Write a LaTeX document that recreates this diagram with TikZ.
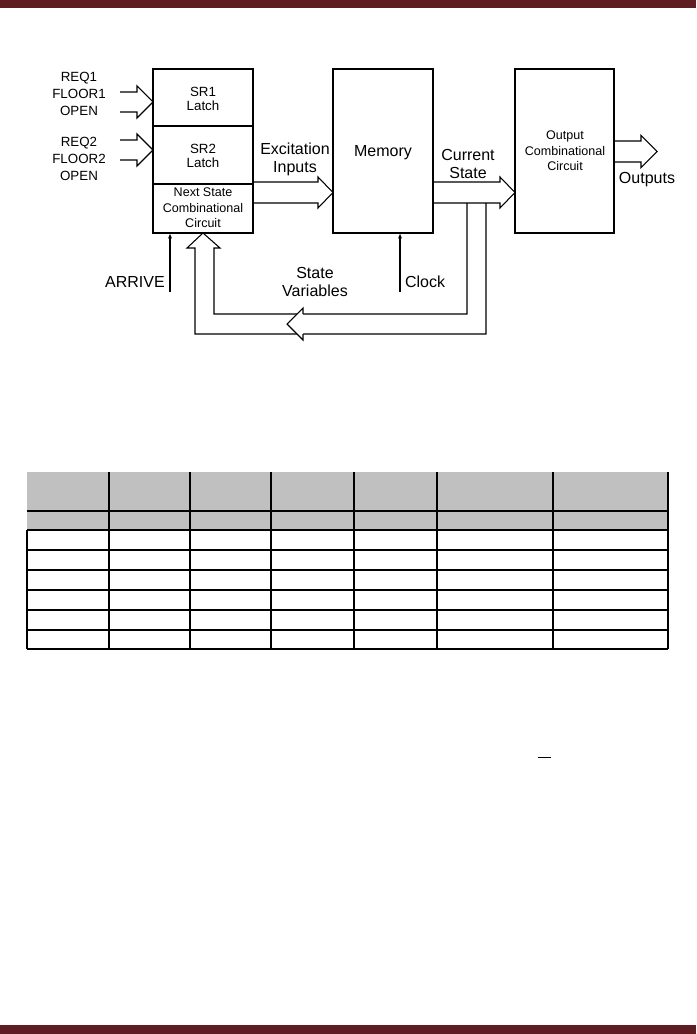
\documentclass[tikz,border=0pt]{standalone}
\usepackage{fontspec}
\setmainfont{Liberation Sans}
\usetikzlibrary{arrows.meta}

\definecolor{barred}{RGB}{94,30,33}
\definecolor{headgray}{RGB}{192,192,192}

% hollow block arrow: tail x, head x, tip x, centre y, half shaft, half head
\newcommand{\blockarr}[6]{%
  \draw[blk] ({#1},{#4-#5})--({#2},{#4-#5})--({#2},{#4-#6})--({#3},{#4})
    --({#2},{#4+#6})--({#2},{#4+#5})--({#1},{#4+#5});}

\begin{document}
\begin{tikzpicture}[x=.75pt,y=-.75pt,
  blk/.style={line width=.8pt},
  lbl/.style={inner sep=0pt,align=center,font=\fontsize{12}{13.5}\selectfont},
  srlbl/.style={inner sep=0pt,align=center,font=\fontsize{10}{11}\selectfont},
  inlbl/.style={inner sep=0pt,align=center,font=\fontsize{10}{12.7}\selectfont},
  smlbl/.style={inner sep=0pt,align=center,font=\fontsize{9.4}{11.6}\selectfont},
  thin/.style={line width=.8pt},
  thick/.style={line width=1.7pt},
  sig/.style={line width=.8pt,-{Latex[length=4pt,width=3pt]}}]
\path[use as bounding box] (0,0) rectangle (696,1034);
\fill[barred] (0,0) rectangle (696,8);
\fill[barred] (0,1025) rectangle (696,1034);

% boxes
\draw[blk] (153,69) rectangle (253,233);
\draw[blk] (153,126)--(253,126);
\draw[blk] (153,184)--(253,184);
\draw[blk] (333,69) rectangle (433,233);
\draw[blk] (515,69) rectangle (614,233);
\coordinate (nsb) at (203,233);
\coordinate (memb) at (383,233);

\node[srlbl] (sr1) at (203,99) {SR1\\Latch};
\node[srlbl] (sr2) at (203,156) {SR2\\Latch};
\node[smlbl] (ns) at (203,208) {Next State\\Combinational\\Circuit};
\node[lbl] (mem) at (383,153) {Memory};
\node[smlbl] (out) at (565,151) {Output\\Combinational\\Circuit};

% inputs
\node[inlbl] (in1) at (79,94) {REQ1\\FLOOR1\\OPEN};
\node[inlbl] (in2) at (79,159) {REQ2\\FLOOR2\\OPEN};
\blockarr{120}{137}{153}{102}{10}{16}
\blockarr{120}{137}{153}{150}{10}{16}

% block arrows
\blockarr{253}{318}{333}{192.5}{10.5}{15.5}
\blockarr{433}{500}{515}{192.5}{10.5}{15.5}
\blockarr{614}{641}{657}{151.5}{10.5}{16}
\node[lbl] (exc) at (295,159) {Excitation\\Inputs};
\node[lbl] (cur) at (468,164) {Current\\State};
\node[lbl] (outs) at (647,180) {Outputs};

% feedback
\draw[blk] (467,203)--(467,314)--(214,314)--(214,248)--(220,248)--(nsb)
  --(187,248)--(195,248)--(195,334)--(486,334)--(486,203);
\draw[blk,fill=white] (303,314)--(303,308)--(287,324)--(303,340)--(303,334);
\node[lbl] (sv) at (315,282) {State\\Variables};

% control inputs
\coordinate (arr) at (170,292);
\coordinate (clk) at (400,292);
\draw[sig] (arr)--(arr |- nsb);
\draw[sig] (clk)--(clk |- memb);
\node[lbl] (arrive) at (135,282) {ARRIVE};
\node[lbl] (clock) at (425,282) {Clock};

% table
\fill[headgray] (27,472) rectangle (668,530);
\draw[thin] (27,530)--(27,649);
\foreach \x/\w in {109/thick,190/thick,271/thick,354/thin,437/thick,553/thin,668/thick}
  \draw[\w] (\x,472)--(\x,649);
\foreach \y/\w in {511/thick,530/thick,550/thick,570/thin,590/thick,610/thick,630/thin,649/thick}
  \draw[\w] (27,\y)--(668,\y);

\draw[line width=.5pt] (538,757)--(551,757);
\end{tikzpicture}
\end{document}
